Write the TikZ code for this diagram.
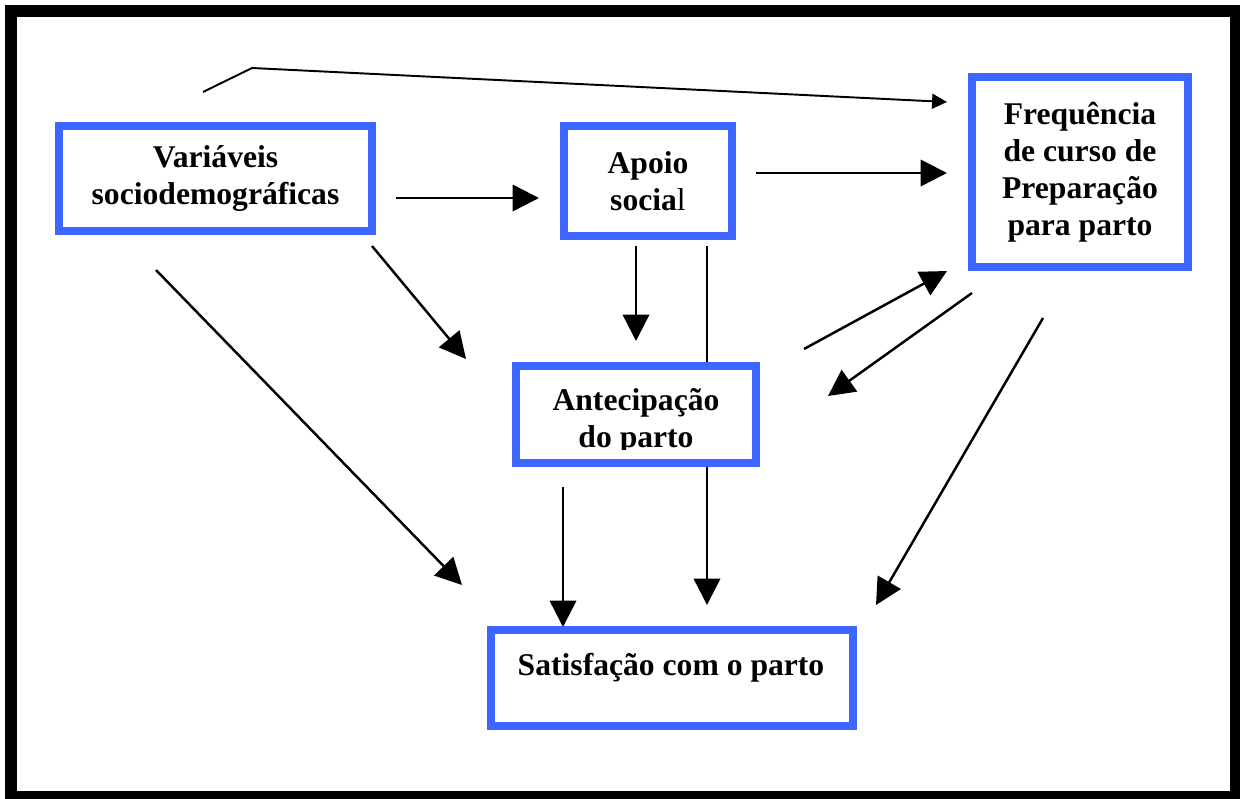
\documentclass[tikz,border=0pt]{standalone}
\usepackage{fontspec}
\setmainfont{Liberation Serif}
\usetikzlibrary{arrows.meta,backgrounds}
\definecolor{boxblue}{RGB}{61,101,255}
\tikzset{
  box/.style={draw=boxblue, line width=4.5pt, fill=white, align=center, inner sep=0pt,
    font=\fontsize{18}{21}\selectfont\bfseries},
  boxtext/.style={align=center, inner sep=0pt, font=\fontsize{18}{21}\selectfont\bfseries},
  link/.style={line width=1.4pt, -{Triangle[length=15pt,width=15pt]}},
  thinlink/.style={line width=1.1pt, -{Triangle[length=8.5pt,width=8.5pt]}},
}
\begin{document}
\begin{tikzpicture}[x=0.02cm, y=-0.02cm]
\clip (0,0) rectangle (1240,798);
\useasboundingbox (0,0) rectangle (1240,798);

% frame
\draw[line width=6.8pt] (11,11) rectangle (1236,797);

% boxes
\node[box, minimum width=6.26cm, minimum height=2.1cm] (var) at (215.5,178.5) {Variáveis\\sociodemográficas};
\node[box, minimum width=3.36cm, minimum height=2.2cm] (apoio) at (648,181) {Apoio\\socia{\mdseries l}};
\node[box, minimum width=4.32cm, minimum height=3.8cm] (freq) at (1080,172) {Frequência\\de curso de\\Preparação\\para parto};
\node[box, minimum width=4.8cm, minimum height=1.94cm] (antec) at (636,414.5) {};
\begin{scope}
\clip (520,370) rectangle (752,449);
\node[boxtext] (antec-t) at (636,421) {Antecipação\\do parto};
\end{scope}
\node[box, minimum width=7.24cm, minimum height=1.92cm] (satis) at (672,678) {};
\node[boxtext] (satis-t) at (671,668) {Satisfação com o parto};

% free ends of the connectors
\coordinate (top-a) at (203,92);
\coordinate (top-b) at (252,68);
\coordinate (top-c) at (947,102);
\coordinate (va-a) at (396,198);
\coordinate (va-b) at (539,198);
\coordinate (af-a) at (756,173);
\coordinate (af-b) at (947,173);
\coordinate (vn-a) at (372,246);
\coordinate (vn-b) at (466,359);
\coordinate (vs-a) at (156,270);
\coordinate (vs-b) at (462,585);
\coordinate (an-a) at (636,246);
\coordinate (an-b) at (636,341);
\coordinate (as-a) at (707,246);
\coordinate (as-b) at (707,605);
\coordinate (ns-a) at (563,487);
\coordinate (ns-b) at (563,627);
\coordinate (nf-a) at (804,349);
\coordinate (nf-b) at (947,271);
\coordinate (fn-a) at (972,293);
\coordinate (fn-b) at (828,396);
\coordinate (fs-a) at (1043,318);
\coordinate (fs-b) at (876,605);

\begin{scope}[on background layer]
\draw[thinlink] (top-a) -- (top-b) -- (top-c);
\draw[link] (va-a) -- (va-b);
\draw[link] (af-a) -- (af-b);
\draw[link] (vn-a) -- (vn-b);
\draw[link] (vs-a) -- (vs-b);
\draw[link] (an-a) -- (an-b);
\draw[link] (as-a) -- (as-b);
\draw[link] (ns-a) -- (ns-b);
\draw[link] (nf-a) -- (nf-b);
\draw[link] (fn-a) -- (fn-b);
\draw[link] (fs-a) -- (fs-b);
\end{scope}

\end{tikzpicture}
\end{document}
